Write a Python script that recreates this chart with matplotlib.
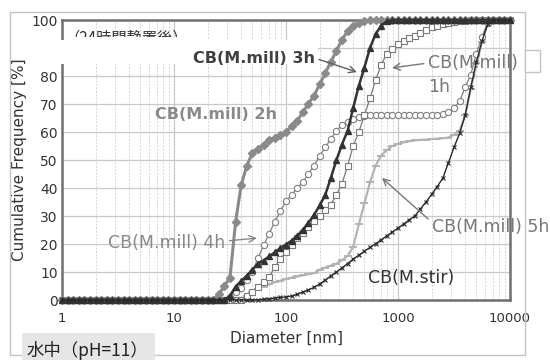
import matplotlib
matplotlib.use("Agg")
import matplotlib.pyplot as plt
from matplotlib.patches import Rectangle
from matplotlib.ticker import LogLocator, NullFormatter

plt.rcParams['font.family'] = ['DejaVu Sans', 'Noto Sans CJK JP']

# ---------------- data ----------------
diameter_nm = [
    1.00, 1.12, 1.26, 1.41, 1.58, 1.78, 2.00, 2.24, 2.51, 2.82,
    3.16, 3.55, 3.98, 4.47, 5.01, 5.62, 6.31, 7.08, 7.94, 8.91,
    10.0, 11.2, 12.6, 14.1, 15.8, 17.8, 20.0, 22.4, 25.1, 28.2,
    31.6, 35.5, 39.8, 44.7, 50.1, 56.2, 63.1, 70.8, 79.4, 89.1,
    100, 112, 126, 141, 158, 178, 200, 224, 251, 282,
    316, 355, 398, 447, 501, 562, 631, 708, 794, 891,
    1000, 1122, 1259, 1413, 1585, 1778, 1995, 2239, 2512, 2818,
    3162, 3548, 3981, 4467, 5012, 5623, 6310, 7079, 7943, 8913,
    10000]

cb_mill_2h = [
    0, 0, 0, 0, 0, 0, 0, 0, 0, 0,
    0, 0, 0, 0, 0, 0, 0, 0, 0, 0,
    0, 0, 0, 0, 0, 0, 0, 0, 2, 5,
    8, 28, 41, 48, 52.5, 54, 55.5, 57, 58, 59,
    60, 62, 64, 67, 70, 73, 77, 81, 85, 89,
    93, 96, 98, 99, 99.5, 100, 100, 100, 100, 100,
    100, 100, 100, 100, 100, 100, 100, 100, 100, 100,
    100, 100, 100, 100, 100, 100, 100, 100, 100, 100,
    100]

cb_mill_3h = [
    0, 0, 0, 0, 0, 0, 0, 0, 0, 0,
    0, 0, 0, 0, 0, 0, 0, 0, 0, 0,
    0, 0, 0, 0, 0, 0, 0, 0, 0, 0,
    1.5, 4.8, 6.8, 8.7, 10.8, 13, 14.1, 15.6, 17, 18.6,
    19.8, 21.2, 23, 25, 27.5, 30.4, 33.8, 37.5, 43.5, 50,
    55.5, 60.5, 68.6, 76.5, 83, 90, 95, 98, 99.5, 100,
    100, 100, 100, 100, 100, 100, 100, 100, 100, 100,
    100, 100, 100, 100, 100, 100, 100, 100, 100, 100,
    100]

cb_mill_1h = [
    0, 0, 0, 0, 0, 0, 0, 0, 0, 0,
    0, 0, 0, 0, 0, 0, 0, 0, 0, 0,
    0, 0, 0, 0, 0, 0, 0, 0, 0, 0,
    0, 0, 0, 1.4, 3, 4.6, 6.4, 8.2, 11.8, 14.6,
    17.2, 19.6, 22, 24, 26, 28.3, 30, 32, 34, 37.5,
    41.5, 48, 55, 60, 66, 72, 78.5, 84, 88, 89.7,
    91.3, 92.4, 93.4, 94.4, 95.4, 96.4, 97.5, 98, 98.5, 98.8,
    99.2, 99.5, 99.8, 100, 100, 100, 100, 100, 100, 100,
    100]

cb_mill_4h = [
    0, 0, 0, 0, 0, 0, 0, 0, 0, 0,
    0, 0, 0, 0, 0, 0, 0, 0, 0, 0,
    0, 0, 0, 0, 0, 0, 0, 0, 0, 0,
    1, 3, 4.4, 7, 10, 15, 19.5, 23.7, 28, 31.7,
    35.3, 37.5, 40, 42, 45, 48, 51.5, 54.5, 57.5, 60.5,
    62.5, 63.7, 64.7, 65.4, 65.8, 66, 66, 66, 66, 66,
    66, 66, 66, 66, 66, 66, 66, 66.2, 66.5, 67,
    68.5, 71, 76, 80.5, 88, 94, 99, 100, 100, 100,
    100]

cb_mill_5h = [
    0, 0, 0, 0, 0, 0, 0, 0, 0, 0,
    0, 0, 0, 0, 0, 0, 0, 0, 0, 0,
    0, 0, 0, 0, 0, 0, 0, 0, 0, 0,
    0, 0, 0.3, 1.6, 3, 4, 4.8, 5.6, 6.4, 6.9,
    7.5, 8, 8.4, 8.8, 9.2, 9.6, 10.8, 11.6, 12.3, 13,
    14.2, 15.7, 19, 27, 34.5, 42, 48, 51.6, 53.5, 55,
    55.8, 56.3, 56.7, 57, 57.2, 57.3, 57.5, 57.6, 57.8, 58,
    59, 60.5, 66, 75.5, 84.5, 92, 98.5, 100, 100, 100,
    100]

cb_stir = [
    0, 0, 0, 0, 0, 0, 0, 0, 0, 0,
    0, 0, 0, 0, 0, 0, 0, 0, 0, 0,
    0, 0, 0, 0, 0, 0, 0, 0, 0, 0,
    0, 0, 0, 0, 0, 0.1, 0.3, 0.5, 0.7, 0.9,
    1.1, 1.4, 2, 2.8, 3.6, 4.5, 5.7, 7.1, 8.6, 10,
    11.5, 13, 14.6, 16, 17.4, 18.8, 20.1, 21.5, 22.9, 24.3,
    25.7, 27.1, 28.6, 30, 32.5, 35, 37.7, 40.5, 43.5, 49,
    54.5, 59.5, 66, 76, 85, 92.5, 98.5, 100, 100, 100,
    100]

x_ticks = [1, 10, 100, 1000, 10000]
x_tick_labels = ['1', '10', '100', '1000', '10000']
y_ticks = [0, 10, 20, 30, 40, 50, 60, 70, 80, 90, 100]

# ---------------- figure ----------------
W, H = 550, 360
fig = plt.figure(figsize=(5.5, 3.6), dpi=100)
fig.patch.set_facecolor('white')


def fx(px):
    return px / W


def fy(py):
    return 1 - py / H


ax = fig.add_axes([fx(62), fy(300), fx(510) - fx(62), fy(20) - fy(300)])
ax.set_xscale('log')
ax.set_xlim(1, 10000)
ax.set_ylim(0, 100)
ax.set_xticks(x_ticks)
ax.set_xticklabels(x_tick_labels)
ax.set_yticks(y_ticks)
ax.xaxis.set_minor_locator(LogLocator(base=10, subs=range(2, 10)))
ax.xaxis.set_minor_formatter(NullFormatter())
ax.set_axisbelow(True)
ax.grid(which='major', color='#c9c9c9', lw=0.9)
ax.grid(which='minor', axis='x', color='#d6d6d6', lw=0.7, ls=(0, (2, 1.5)))
ax.tick_params(which='both', length=0)
ax.tick_params(axis='y', labelsize=10, pad=3, labelcolor='#333333')
ax.tick_params(axis='x', labelsize=9.5, pad=9, labelcolor='#333333')
for s in ax.spines.values():
    s.set_color('#707070')
    s.set_linewidth(1.8)

ax.set_xlabel('Diameter [nm]', fontsize=11, color='#333333', labelpad=4)
ax.set_ylabel('Cumulative Frequency [%]', fontsize=11, color='#333333', labelpad=3)

common = dict(clip_on=False)
ax.plot(diameter_nm, cb_mill_5h, color='#b3b3b3', lw=1.6, marker='_', ms=6,
        mew=1.4, zorder=3, **common)
ax.plot(diameter_nm, cb_mill_4h, color='#7f7f7f', lw=0.9, marker='o', ms=4.5,
        mfc='white', mec='#7f7f7f', mew=0.8, zorder=3.1, **common)
ax.plot(diameter_nm, cb_mill_1h, color='#7a7a7a', lw=0.9, marker='s', ms=4.5,
        mfc='white', mec='#7a7a7a', mew=0.8, zorder=3.2, **common)
ax.plot(diameter_nm, cb_mill_2h, color='#8a8a8a', lw=2.2, marker='D', ms=4,
        mec='#8a8a8a', zorder=3.3, **common)
ax.plot(diameter_nm, cb_mill_3h, color='#333333', lw=1.8, marker='^', ms=5,
        mec='#333333', zorder=3.4, **common)
ax.plot(diameter_nm, cb_stir, color='#2a2a2a', lw=1.0, marker='x', ms=3.5,
        mew=0.8, zorder=3.5, **common)

# partially hidden note and white masking boxes near the top-left
ax.text(0.006, 0.936, '（24時間静置後）', transform=ax.transAxes, fontsize=11,
        ha='left', va='center', color='#333333',
        family=['Noto Sans CJK JP', 'DejaVu Sans'], zorder=7)
for (x0, y0, x1, y1) in [(64, 37.5, 200, 46), (40, 40, 318, 64)]:
    ax.add_patch(Rectangle((fx(x0), fy(y1)), fx(x1) - fx(x0), fy(y0) - fy(y1),
                           transform=fig.transFigure, fc='white', ec='none',
                           clip_on=False, zorder=8))

arrow_kw = dict(arrowstyle='->', lw=1.0, shrinkA=1, shrinkB=0, mutation_scale=12)

ax.annotate('CB(M.mill) 3h', xy=(430, 81.4), xycoords='data',
            xytext=(0.292, 0.864), textcoords='axes fraction',
            ha='left', va='center', fontsize=11.5, fontweight='bold',
            color='#404040', zorder=9, annotation_clip=False,
            arrowprops=dict(color='#606060', relpos=(1, 0.5), **arrow_kw))

ax.text(0.2076, 0.661, 'CB(M.mill) 2h', transform=ax.transAxes,
        ha='left', va='center', fontsize=11.5, fontweight='bold',
        color='#8a8a8a', zorder=9)

ax.annotate('CB(M.mill)\n1h', xy=(884, 82.9), xycoords='data',
            xytext=(0.817, 0.804), textcoords='axes fraction',
            ha='left', va='center', fontsize=12.5, linespacing=1.45,
            color='#777777', zorder=9, annotation_clip=False,
            arrowprops=dict(color='#777777', relpos=(0, 0.78), **arrow_kw))

ax.annotate('CB(M.mill) 4h', xy=(55, 22.1), xycoords='data',
            xytext=(0.1027, 0.204), textcoords='axes fraction',
            ha='left', va='center', fontsize=12.5,
            color='#888888', zorder=9, annotation_clip=False,
            arrowprops=dict(color='#888888', relpos=(1, 0.6), **arrow_kw))

ax.annotate('CB(M.mill) 5h', xy=(719, 43.6), xycoords='data',
            xytext=(0.826, 0.261), textcoords='axes fraction',
            ha='left', va='center', fontsize=12.5,
            color='#777777', zorder=9, annotation_clip=False,
            arrowprops=dict(color='#777777', relpos=(0, 0.75), **arrow_kw))

ax.text(0.683, 0.079, 'CB(M.stir)', transform=ax.transAxes,
        ha='left', va='center', fontsize=12.5, color='#333333', zorder=9)

# outer frame and decorations
fig.patches.append(Rectangle((fx(10), fy(355)), fx(525) - fx(10), fy(12) - fy(355),
                             transform=fig.transFigure, fill=False,
                             ec='#c4c4c4', lw=1.0, zorder=1))
fig.patches.append(Rectangle((fx(525), fy(72)), fx(540) - fx(525), fy(50) - fy(72),
                             transform=fig.transFigure, fc='white',
                             ec='#c4c4c4', lw=1.0, zorder=1.5))
fig.patches.append(Rectangle((fx(22), fy(362)), fx(155) - fx(22), fy(333) - fy(362),
                             transform=fig.transFigure, fc='#e6e6e6',
                             ec='none', zorder=2))
fig.text(fx(27), fy(351), '水中（pH=11）', ha='left', va='center', fontsize=12.5,
         color='#222222', family=['Noto Sans CJK JP', 'DejaVu Sans'], zorder=3)

fig.savefig('out.png', dpi=100, facecolor='white')
